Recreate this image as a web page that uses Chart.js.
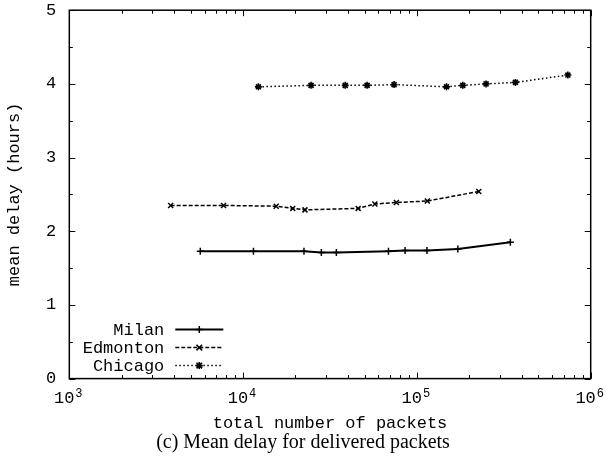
<!DOCTYPE html>
<html>
<head>
<meta charset="utf-8">
<script src="https://cdn.jsdelivr.net/npm/chart.js@4/dist/chart.umd.min.js"></script>
<style>
  html, body { margin: 0; padding: 0; background: #fff; }
  #wrap { width: 606px; height: 462px; }
</style>
</head>
<body>
<div id="wrap"><canvas id="delayChart"></canvas></div>
<script>
// values
const seriesNames = ['Milan', 'Edmonton', 'Chicago'];
const milanPackets = [5670, 11470, 22400, 28200, 34400, 68600, 85500, 114300, 172000, 345000];
const milanDelay = [1.73, 1.73, 1.73, 1.71, 1.71, 1.73, 1.74, 1.74, 1.76, 1.85];
const edmontonPackets = [3830, 7720, 15500, 19300, 22700, 45900, 57300, 76200, 114800, 227000];
const edmontonDelay = [2.35, 2.35, 2.34, 2.31, 2.29, 2.31, 2.37, 2.39, 2.41, 2.54];
const chicagoPackets = [12250, 24600, 38700, 51700, 73900, 148000, 183700, 250000, 369000, 739000];
const chicagoDelay = [3.96, 3.98, 3.98, 3.98, 3.99, 3.96, 3.98, 4.00, 4.02, 4.12];
const xDecades = [1e3, 1e4, 1e5, 1e6];
const yTickLabels = [0, 1, 2, 3, 4, 5];
const caption = '(c) Mean delay for delivered packets';

const mono = 'Liberation Mono, Courier New, monospace';

function isDecade(v) {
  const e = Math.log10(v);
  return Math.abs(e - Math.round(e)) < 1e-9;
}

function pts(xs, ys) {
  return xs.map((x, i) => ({ x: x, y: ys[i] }));
}

function drawMarker(ctx, style, x, y, r) {
  ctx.beginPath();
  if (style === 'cross' || style === 'star') {
    ctx.moveTo(x - r, y); ctx.lineTo(x + r, y);
    ctx.moveTo(x, y - r); ctx.lineTo(x, y + r);
  }
  if (style === 'crossRot' || style === 'star') {
    const d = r * 0.8;
    ctx.moveTo(x - d, y - d); ctx.lineTo(x + d, y + d);
    ctx.moveTo(x - d, y + d); ctx.lineTo(x + d, y - d);
  }
  ctx.stroke();
}

// gnuplot style box with inward ticks on all four sides
const framePlugin = {
  id: 'gnuFrame',
  afterDatasetsDraw(chart) {
    const { ctx, chartArea: a, scales: { x, y } } = chart;
    ctx.save();
    ctx.strokeStyle = '#000';
    ctx.lineWidth = 1;
    ctx.beginPath();
    x.ticks.forEach(t => {
      const px = Math.round(x.getPixelForValue(t.value)) + 0.5;
      const len = isDecade(t.value) ? 6 : 3.5;
      ctx.moveTo(px, a.bottom); ctx.lineTo(px, a.bottom - len);
      ctx.moveTo(px, a.top); ctx.lineTo(px, a.top + len);
    });
    y.ticks.forEach(t => {
      const py = Math.round(y.getPixelForValue(t.value)) + 0.5;
      const len = Number.isInteger(t.value) ? 6 : 3.5;
      ctx.moveTo(a.left, py); ctx.lineTo(a.left + len, py);
      ctx.moveTo(a.right, py); ctx.lineTo(a.right - len, py);
    });
    ctx.stroke();
    ctx.lineWidth = 1.5;
    ctx.strokeRect(a.left, a.top, a.right - a.left, a.bottom - a.top);

    // exponents of the 10^n labels, raised and smaller
    ctx.font = '12px ' + mono;
    ctx.fillStyle = '#000';
    ctx.textAlign = 'left';
    ctx.textBaseline = 'alphabetic';
    x.ticks.forEach(t => {
      if (!isDecade(t.value)) return;
      const px = x.getPixelForValue(t.value);
      ctx.fillText(String(Math.round(Math.log10(t.value))), px + 6, a.bottom + 18);
    });
    ctx.restore();
  }
};

// key in the lower left corner: label, then line sample with marker
const keyPlugin = {
  id: 'gnuKey',
  afterDraw(chart) {
    const { ctx, chartArea: a } = chart;
    const rowY = [a.bottom - 49, a.bottom - 31, a.bottom - 13];
    ctx.save();
    ctx.font = '17px ' + mono;
    ctx.fillStyle = '#000';
    ctx.textAlign = 'right';
    ctx.textBaseline = 'middle';
    chart.data.datasets.forEach((ds, i) => {
      const yy = rowY[i];
      ctx.fillText(ds.label, a.left + 95, yy + 1);
      ctx.strokeStyle = '#000';
      ctx.lineWidth = ds.borderWidth;
      ctx.setLineDash(ds.borderDash || []);
      ctx.beginPath();
      ctx.moveTo(a.left + 106, yy);
      ctx.lineTo(a.left + 154, yy);
      ctx.stroke();
      ctx.setLineDash([]);
      ctx.lineWidth = ds.pointBorderWidth;
      drawMarker(ctx, ds.pointStyle, a.left + 130, yy, ds.pointRadius);
    });
    ctx.restore();
  }
};

const ctx = document.getElementById('delayChart').getContext('2d');
const delayChart = new Chart(ctx, {
  type: 'line',
  data: {
    datasets: [{
      label: seriesNames[0],
      data: pts(milanPackets, milanDelay),
      borderColor: '#000',
      backgroundColor: '#000',
      borderWidth: 2,
      borderDash: [],
      pointStyle: 'cross',
      pointRadius: 3.5,
      pointBorderWidth: 1.5
    }, {
      label: seriesNames[1],
      data: pts(edmontonPackets, edmontonDelay),
      borderColor: '#000',
      backgroundColor: '#000',
      borderWidth: 1.5,
      borderDash: [4, 2],
      pointStyle: 'crossRot',
      pointRadius: 3.5,
      pointBorderWidth: 1.5
    }, {
      label: seriesNames[2],
      data: pts(chicagoPackets, chicagoDelay),
      borderColor: '#000',
      backgroundColor: '#000',
      borderWidth: 1.5,
      borderDash: [1.5, 2.5],
      pointStyle: 'star',
      pointRadius: 3.5,
      pointBorderWidth: 1.6
    }]
  },
  options: {
    responsive: true,
    maintainAspectRatio: false,
    animation: false,
    layout: { padding: { left: 0, right: 0, top: 2, bottom: 9 } },
    scales: {
      x: {
        type: 'logarithmic',
        min: xDecades[0],
        max: xDecades[xDecades.length - 1],
        grid: { display: false, drawTicks: true, tickLength: 10 },
        border: { display: false },
        afterBuildTicks(scale) {
          const ticks = [];
          xDecades.forEach((d, i) => {
            ticks.push({ value: d });
            if (i < xDecades.length - 1) {
              for (let k = 2; k < 10; k++) ticks.push({ value: d * k });
            }
          });
          scale.ticks = ticks;
        },
        ticks: {
          autoSkip: false,
          maxRotation: 0,
          padding: 0,
          color: '#000',
          font: { family: mono, size: 17 },
          // trailing space leaves room for the exponent drawn by gnuFrame
          callback: (v) => isDecade(v) ? '10 ' : ''
        },
        title: {
          display: true,
          text: 'total number of packets',
          color: '#000',
          font: { family: mono, size: 17, lineHeight: 1 },
          padding: { top: 6, bottom: 0 }
        }
      },
      y: {
        min: 0,
        max: 5,
        grid: { display: false, drawTicks: true, tickLength: 13 },
        border: { display: false },
        ticks: {
          stepSize: 0.5,
          padding: 0,
          color: '#000',
          font: { family: mono, size: 17 },
          callback: (v) => yTickLabels.includes(v) ? String(v) : ''
        },
        title: {
          display: true,
          text: 'mean delay (hours)',
          color: '#000',
          font: { family: mono, size: 17, lineHeight: 1 },
          padding: { top: 5.5, bottom: 23.6 }
        }
      }
    },
    plugins: {
      legend: { display: false },
      tooltip: { enabled: false },
      title: {
        display: true,
        position: 'bottom',
        text: caption,
        color: '#000',
        font: { family: 'Liberation Serif, Times New Roman, serif', size: 20, weight: 'normal', lineHeight: 1 },
        padding: { top: 1, bottom: 0 }
      }
    }
  },
  plugins: [framePlugin, keyPlugin]
});
</script>
</body>
</html>
